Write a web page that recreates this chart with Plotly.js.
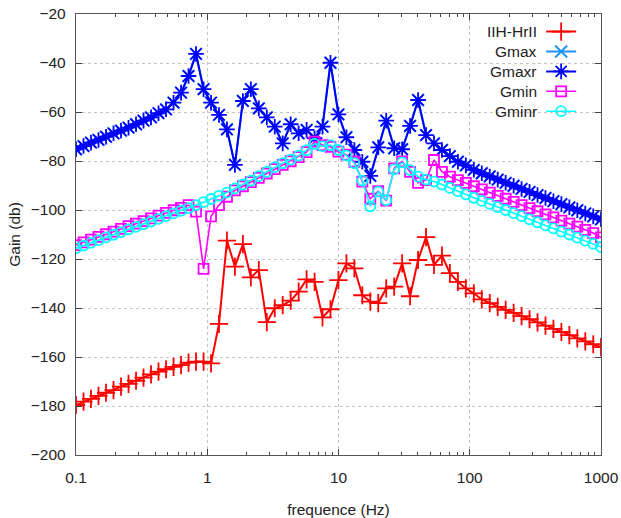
<!DOCTYPE html>
<html>
<head>
<meta charset="utf-8">
<script src="https://cdn.plot.ly/plotly-3.0.1.min.js"></script>
<style>html,body{margin:0;padding:0;background:#fff;}#chart{width:621px;height:518px;}</style>
</head>
<body>
<div id="chart"></div>
<script>
// Frequency grid (Hz)
const freq = [0.1, 0.1141, 0.1301, 0.1484, 0.1693, 0.1931, 0.2203, 0.2513, 0.2866, 0.3269, 0.3729, 0.4254, 0.4852, 0.5535, 0.6313, 0.7202, 0.8215, 0.9371, 1.069,
  1.229, 1.413, 1.625, 1.869, 2.149, 2.471, 2.842, 3.268, 3.758, 4.321, 4.969, 5.714, 6.570, 7.555, 8.688, 9.990,
  11.49, 13.21, 15.19, 17.47, 20.09, 23.10, 26.56, 30.54, 35.12, 40.39, 46.44, 53.40, 61.41, 70.61, 81.20, 93.37,
  107.4, 123.5, 142.0, 163.3, 187.7, 215.9, 248.2, 285.5, 328.3, 377.5, 434.1, 499.1, 574.0, 660.0, 759.0, 872.8, 1000];

// Series values (dB)
const iihHrll = [-179.6, -178.2, -177.1, -175.9, -174.6, -173.5, -172.1, -171.0, -169.7, -168.4, -167.1, -166.0, -165.0, -164.0, -163.3, -162.3, -161.9, -161.9, -162.6,
  -146.5, -112.5, -123.1, -113.9, -127.5, -124.5, -145.8, -140.1, -138.8, -137.0, -133.3, -128.3, -129.3, -143.8, -140.5, -128.6, -121.8,
  -123.8, -134.8, -137.4, -138.0, -132.0, -131.3, -121.8, -135.2, -120.4, -111.1, -122.4, -118.6, -125.8, -129.3,
  -132.0, -134.0, -136.5, -138.0, -139.5, -140.8, -142.0, -143.3, -144.6, -145.9, -147.2, -148.5, -149.8, -151.1, -152.4, -153.6, -154.8, -156.0];

const gmaxr = [-75.2, -73.9, -72.5, -71.4, -70.1, -68.7, -67.6, -66.4, -65.0, -63.5, -62.2, -60.5, -58.9, -56.2, -52.1, -45.3, -36.3,
  -50.7, -56.2, -61.2, -67.1, -81.6, -55.5, -50.7, -58.5, -62.2, -66.0, -72.8, -65.0, -68.7, -67.3, -70.7, -66.0, -39.9,
  -61.0, -70.3, -75.5, -80.3, -86.1, -74.4, -63.5, -74.8, -75.2, -65.7, -55.1, -69.4, -72.8, -75.5, -78.0, -80.3, -81.8,
  -83.6, -85.0, -86.3, -87.6, -88.9, -90.1, -91.4, -92.6, -93.9, -95.1, -96.4, -97.6, -98.9, -100.1, -101.4, -102.6, -103.8];

// Gmax lies under Gmaxr in the picture (identical curve)
const gmax = [-75.2, -73.9, -72.5, -71.4, -70.1, -68.7, -67.6, -66.4, -65.0, -63.5, -62.2, -60.5, -58.9, -56.2, -52.1, -45.3, -36.3,
  -50.7, -56.2, -61.2, -67.1, -81.6, -55.5, -50.7, -58.5, -62.2, -66.0, -72.8, -65.0, -68.7, -67.3, -70.7, -66.0, -39.9,
  -61.0, -70.3, -75.5, -80.3, -86.1, -74.4, -63.5, -74.8, -75.2, -65.7, -55.1, -69.4, -72.8, -75.5, -78.0, -80.3, -81.8,
  -83.6, -85.0, -86.3, -87.6, -88.9, -90.1, -91.4, -92.6, -93.9, -95.1, -96.4, -97.6, -98.9, -100.1, -101.4, -102.6, -103.8];

const gmin = [-114.3, -113.2, -112.1, -111.0, -109.9, -108.8, -107.7, -106.6, -105.6, -104.5, -103.4, -102.3, -101.2, -100.1, -99.1, -98.0,
  -100.7, -124.0, -102.6, -98.0, -94.6, -92.0, -90.3, -88.6, -86.9, -85.1, -83.3, -81.6, -80.1, -78.4, -76.4, -72.1, -73.5, -74.2,
  -76.2, -77.4, -80.3, -88.4, -95.4, -92.3, -96.2, -83.0, -80.2, -84.4, -88.9, -87.8, -79.6, -84.4, -86.4, -87.8, -88.9,
  -90.3, -91.6, -92.9, -94.2, -95.4, -96.7, -98.0, -99.2, -100.5, -101.8, -103.0, -104.3, -105.6, -106.8, -108.1, -109.4, -111.2];

const gminr = [-115.6, -114.5, -113.4, -112.3, -111.2, -110.1, -109.0, -107.9, -106.9, -105.8, -104.7, -103.6, -102.5, -101.4, -100.3, -99.2, -98.0,
  -96.8, -95.5, -94.2, -92.9, -91.2, -89.6, -88.0, -86.2, -84.4, -82.5, -80.9, -79.4, -77.8, -75.6, -73.0, -74.0, -73.5,
  -75.5, -77.8, -80.9, -88.0, -98.5, -92.5, -96.0, -83.4, -80.6, -83.7, -86.4, -87.6, -88.4, -89.6, -91.0, -92.3, -93.6,
  -95.0, -96.3, -97.5, -98.8, -100.0, -101.3, -102.5, -103.8, -105.0, -106.3, -107.5, -108.8, -110.0, -111.3, -112.5, -113.8, -115.1];

const seriesNames = ['IIH-HrII', 'Gmax', 'Gmaxr', 'Gmin', 'Gminr'];
const xTickVals = [0.1, 1, 10, 100, 1000];
const xTickText = ['0.1', '1', '10', '100', '1000'];
const xMinorVals = [0.2,0.3,0.4,0.5,0.6,0.7,0.8,0.9, 2,3,4,5,6,7,8,9, 20,30,40,50,60,70,80,90, 200,300,400,500,600,700,800,900];

const FONT = 'Liberation Sans, Arial, sans-serif';

function tr(y, name, color, symbol, size, lw) {
  return {
    x: freq, y: y, type: 'scatter', mode: 'lines+markers', name: '',
    meta: name, showlegend: true,
    line: {color: color, width: lw},
    marker: {symbol: symbol, size: size, color: color, line: {color: color, width: 1.8}},
    hovertemplate: name + ': %{x}, %{y}<extra></extra>'
  };
}

const traces = [
  tr(iihHrll, seriesNames[0], '#ff0000', 'cross-thin-open', 13, 2),
  tr(gmax, seriesNames[1], '#1e90ff', 'x-thin-open', 12, 2),
  tr(gmaxr, seriesNames[2], '#0000ff', 'asterisk-open', 13, 2),
  tr(gmin, seriesNames[3], '#ff00ff', 'square-open', 10, 1.6),
  tr(gminr, seriesNames[4], '#00ffff', 'circle-open', 10, 1.6)
];

// initial guess of legend row positions (paper coords), refined after render
const rowY = [0.9615, 0.914, 0.866, 0.819, 0.771];
function makeAnnotations(ys) {
  return seriesNames.map((n, i) => ({
    text: n, xref: 'paper', yref: 'paper', x: 0.882, y: ys[i],
    xanchor: 'right', yanchor: 'middle', showarrow: false,
    font: {family: FONT, size: 15.5, color: '#222'}
  }));
}

const axisCommon = {
  showline: true, linecolor: '#555', linewidth: 1.2, mirror: 'allticks',
  ticks: 'inside', ticklen: 6, tickcolor: '#444', tickwidth: 1,
  showgrid: true, gridcolor: '#c4c4c4', griddash: 'dot', gridwidth: 1,
  zeroline: false,
  tickfont: {family: FONT, size: 15.5, color: '#222'}
};

const layout = {
  width: 621, height: 518,
  margin: {l: 76, r: 20, t: 14, b: 63},
  paper_bgcolor: '#fff', plot_bgcolor: '#fff',
  font: {family: FONT, size: 15, color: '#222'},
  xaxis: Object.assign({}, axisCommon, {
    type: 'log', range: [-1, 3], tickmode: 'array', tickvals: xTickVals, ticktext: xTickText,
    ticklabelstandoff: 8,
    minor: {tickmode: 'array', tickvals: xMinorVals, ticks: 'inside', ticklen: 3, tickcolor: '#444', showgrid: false},
    title: {text: 'frequence (Hz)', font: {family: FONT, size: 15.5, color: '#222'}, standoff: 19}
  }),
  yaxis: Object.assign({}, axisCommon, {
    range: [-200, -20], tick0: -200, dtick: 20, ticklabelstandoff: 6,
    title: {text: 'Gain (db)', font: {family: FONT, size: 15.5, color: '#222'}, standoff: 6}
  }),
  legend: {x: 0.886, y: 0.994, xanchor: 'left', yanchor: 'top', bgcolor: 'rgba(0,0,0,0)',
    borderwidth: 0, font: {family: FONT, size: 13}, itemwidth: 30, tracegroupgap: 0},
  annotations: makeAnnotations(rowY)
};

const gd = document.getElementById('chart');
Plotly.newPlot(gd, traces, layout, {displayModeBar: false, staticPlot: true}).then(() => {
  // align the label texts with the legend sample rows drawn by Plotly
  const size = gd._fullLayout._size;
  const top = gd.getBoundingClientRect().top;
  const groups = gd.querySelectorAll('.legend .traces');
  const ys = [];
  groups.forEach(g => {
    const sym = g.querySelector('.legendlines path') || g.querySelector('.legendpoints path') || g;
    const r = sym.getBoundingClientRect();
    const cy = r.top + r.height / 2 - top;
    ys.push(1 - (cy - size.t) / size.h);
  });
  if (ys.length === seriesNames.length) {
    Plotly.relayout(gd, {annotations: makeAnnotations(ys)});
  }
});
</script>
</body>
</html>
